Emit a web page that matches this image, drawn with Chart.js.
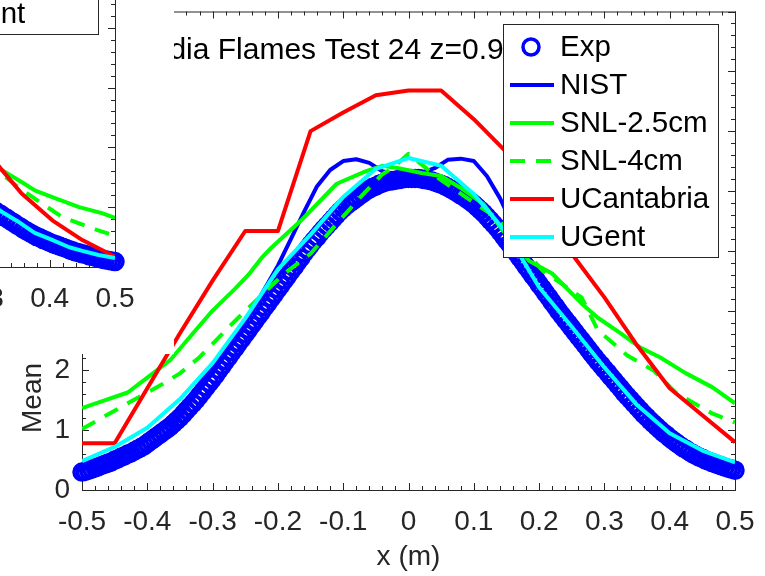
<!DOCTYPE html>
<html>
<head>
<meta charset="utf-8">
<script src="https://cdn.jsdelivr.net/npm/chart.js@4.4.0/dist/chart.umd.min.js"></script>
<style>
  html, body { margin: 0; padding: 0; background: #fff; }
  #wrap { position: relative; width: 765px; height: 576px; overflow: hidden; }
  #main { position: absolute; left: 0; top: 0; }
  #insetBox { position: absolute; left: 0; top: 0; width: 174px; height: 354px; overflow: hidden; background: #fff; }
  #inset { position: absolute; left: -620px; top: -223px; }
</style>
</head>
<body>
<div id="wrap">
  <canvas id="main" width="765" height="576"></canvas>
  <div id="insetBox"><canvas id="inset" width="765" height="576"></canvas></div>
</div>
<script>
// Sandia Flames Test 24, z = 0.9 m : radial profiles of the mean
const expX = [
  -0.500, -0.495, -0.490, -0.485, -0.480, -0.475, -0.470, -0.465, -0.460, -0.455,
  -0.450, -0.445, -0.440, -0.435, -0.430, -0.425, -0.420, -0.415, -0.410, -0.405,
  -0.400, -0.395, -0.390, -0.385, -0.380, -0.375, -0.370, -0.365, -0.360, -0.355,
  -0.350, -0.345, -0.340, -0.335, -0.330, -0.325, -0.320, -0.315, -0.310, -0.305,
  -0.300, -0.295, -0.290, -0.285, -0.280, -0.275, -0.270, -0.265, -0.260, -0.255,
  -0.250, -0.245, -0.240, -0.235, -0.230, -0.225, -0.220, -0.215, -0.210, -0.205,
  -0.200, -0.195, -0.190, -0.185, -0.180, -0.175, -0.170, -0.165, -0.160, -0.155,
  -0.150, -0.145, -0.140, -0.135, -0.130, -0.125, -0.120, -0.115, -0.110, -0.105,
  -0.100, -0.095, -0.090, -0.085, -0.080, -0.075, -0.070, -0.065, -0.060, -0.055,
  -0.050, -0.045, -0.040, -0.035, -0.030, -0.025, -0.020, -0.015, -0.010, -0.005,
  0.000, 0.005, 0.010, 0.015, 0.020, 0.025, 0.030, 0.035, 0.040, 0.045,
  0.050, 0.055, 0.060, 0.065, 0.070, 0.075, 0.080, 0.085, 0.090, 0.095,
  0.100, 0.105, 0.110, 0.115, 0.120, 0.125, 0.130, 0.135, 0.140, 0.145,
  0.150, 0.155, 0.160, 0.165, 0.170, 0.175, 0.180, 0.185, 0.190, 0.195,
  0.200, 0.205, 0.210, 0.215, 0.220, 0.225, 0.230, 0.235, 0.240, 0.245,
  0.250, 0.255, 0.260, 0.265, 0.270, 0.275, 0.280, 0.285, 0.290, 0.295,
  0.300, 0.305, 0.310, 0.315, 0.320, 0.325, 0.330, 0.335, 0.340, 0.345,
  0.350, 0.355, 0.360, 0.365, 0.370, 0.375, 0.380, 0.385, 0.390, 0.395,
  0.400, 0.405, 0.410, 0.415, 0.420, 0.425, 0.430, 0.435, 0.440, 0.445,
  0.450, 0.455, 0.460, 0.465, 0.470, 0.475, 0.480, 0.485, 0.490, 0.495,
  0.500];
const expMean = [
  0.30, 0.31, 0.33, 0.35, 0.37, 0.39, 0.41, 0.43, 0.45, 0.47,
  0.50, 0.52, 0.55, 0.57, 0.60, 0.62, 0.65, 0.68, 0.71, 0.74,
  0.78, 0.82, 0.86, 0.90, 0.94, 0.98, 1.02, 1.06, 1.11, 1.16,
  1.21, 1.27, 1.33, 1.39, 1.45, 1.51, 1.58, 1.65, 1.72, 1.79,
  1.86, 1.93, 2.01, 2.08, 2.16, 2.23, 2.31, 2.38, 2.46, 2.53,
  2.61, 2.68, 2.76, 2.83, 2.91, 2.98, 3.06, 3.13, 3.21, 3.28,
  3.36, 3.43, 3.51, 3.58, 3.66, 3.73, 3.81, 3.88, 3.96, 4.03,
  4.10, 4.17, 4.23, 4.30, 4.36, 4.42, 4.48, 4.54, 4.60, 4.66,
  4.71, 4.76, 4.80, 4.84, 4.88, 4.92, 4.96, 5.00, 5.03, 5.06,
  5.08, 5.11, 5.13, 5.15, 5.16, 5.17, 5.18, 5.19, 5.20, 5.21,
  5.21, 5.21, 5.21, 5.21, 5.20, 5.19, 5.18, 5.17, 5.15, 5.13,
  5.11, 5.09, 5.06, 5.03, 5.00, 4.97, 4.93, 4.90, 4.86, 4.82,
  4.78, 4.73, 4.68, 4.63, 4.57, 4.51, 4.45, 4.39, 4.32, 4.25,
  4.18, 4.11, 4.04, 3.97, 3.89, 3.82, 3.74, 3.67, 3.59, 3.52,
  3.44, 3.37, 3.29, 3.22, 3.14, 3.07, 2.99, 2.92, 2.85, 2.78,
  2.71, 2.64, 2.57, 2.50, 2.43, 2.36, 2.29, 2.22, 2.15, 2.09,
  2.02, 1.96, 1.89, 1.83, 1.76, 1.70, 1.63, 1.57, 1.51, 1.45,
  1.39, 1.33, 1.27, 1.22, 1.16, 1.11, 1.06, 1.01, 0.96, 0.92,
  0.87, 0.83, 0.79, 0.75, 0.71, 0.68, 0.64, 0.61, 0.58, 0.55,
  0.53, 0.50, 0.48, 0.46, 0.44, 0.42, 0.40, 0.38, 0.36, 0.35,
  0.33];

const nistX = [-0.50, -0.45, -0.40, -0.35, -0.30, -0.25, -0.20, -0.18, -0.16, -0.14, -0.12,
  -0.10, -0.08, -0.06, -0.04, -0.02, 0.00, 0.02, 0.04, 0.06, 0.08, 0.10,
  0.12, 0.14, 0.16, 0.18, 0.20, 0.25, 0.30, 0.35, 0.40, 0.45, 0.50];
const nistMean = [0.35, 0.55, 0.85, 1.25, 1.95, 2.80, 3.75, 4.20, 4.65, 5.08, 5.35,
  5.50, 5.53, 5.47, 5.33, 5.28, 5.28, 5.30, 5.38, 5.52, 5.54, 5.50,
  5.25, 4.88, 4.42, 3.98, 3.55, 2.72, 2.02, 1.40, 0.90, 0.56, 0.36];

const snl25X = [-0.50, -0.47, -0.43, -0.40, -0.365, -0.33, -0.30, -0.265, -0.245, -0.225, -0.21,
  -0.165, -0.11, -0.065, -0.04, -0.015, 0.02, 0.05, 0.08, 0.115, 0.145,
  0.185, 0.22, 0.265, 0.29, 0.325, 0.355, 0.385, 0.425, 0.465, 0.50];
const snl25Mean = [1.37, 1.48, 1.63, 1.88, 2.17, 2.62, 3.00, 3.37, 3.60, 3.88, 4.05,
  4.50, 5.12, 5.33, 5.42, 5.38, 5.30, 5.25, 5.05, 4.78, 4.33,
  3.83, 3.62, 3.12, 2.88, 2.62, 2.38, 2.22, 1.95, 1.72, 1.45];

const snl4X = [-0.50, -0.43, -0.38, -0.35, -0.32, -0.27, -0.24, -0.19, -0.15, -0.11, -0.075,
  -0.04, -0.025, 0.00, 0.045, 0.09, 0.135, 0.205, 0.265, 0.29, 0.335,
  0.375, 0.41, 0.465, 0.50];
const snl4Mean = [1.02, 1.45, 1.75, 1.95, 2.22, 2.78, 3.10, 3.62, 3.95, 4.45, 4.88,
  5.28, 5.38, 5.62, 5.22, 4.88, 4.55, 3.67, 3.22, 2.67, 2.25,
  2.00, 1.62, 1.28, 1.13];

const ucX = [-0.50, -0.45, -0.40, -0.35, -0.30, -0.25, -0.20, -0.15, -0.10, -0.05, 0.00,
  0.05, 0.10, 0.15, 0.20, 0.25, 0.30, 0.35, 0.40, 0.45, 0.50];
const ucMean = [0.78, 0.78, 1.70, 2.62, 3.50, 4.33, 4.33, 6.00, 6.31, 6.60, 6.68,
  6.68, 6.20, 5.65, 4.80, 3.95, 3.22, 2.42, 1.70, 1.25, 0.80];

const ugX = [-0.50, -0.45, -0.40, -0.35, -0.30, -0.25, -0.20, -0.15, -0.10, -0.05, 0.00,
  0.05, 0.10, 0.15, 0.20, 0.25, 0.30, 0.35, 0.40, 0.45, 0.50];
const ugMean = [0.48, 0.72, 1.04, 1.52, 2.12, 2.87, 3.69, 4.27, 4.90, 5.37, 5.55,
  5.42, 4.95, 4.30, 3.39, 2.73, 2.05, 1.42, 0.95, 0.66, 0.46];

// neighbouring panel, right-hand end of its profiles
const insetExpX = [0.300, 0.305, 0.310, 0.315, 0.320, 0.325, 0.330, 0.335, 0.340, 0.345,
  0.350, 0.355, 0.360, 0.365, 0.370, 0.375, 0.380, 0.385, 0.390, 0.395,
  0.400, 0.405, 0.410, 0.415, 0.420, 0.425, 0.430, 0.435, 0.440, 0.445,
  0.450, 0.455, 0.460, 0.465, 0.470, 0.475, 0.480, 0.485, 0.490, 0.495, 0.500];
const insetExpMean = [1.05, 1.02, 0.98, 0.95, 0.91, 0.88, 0.84, 0.81, 0.77, 0.74,
  0.70, 0.67, 0.63, 0.60, 0.57, 0.54, 0.51, 0.49, 0.46, 0.44,
  0.41, 0.39, 0.37, 0.35, 0.33, 0.31, 0.29, 0.27, 0.25, 0.24,
  0.22, 0.21, 0.19, 0.18, 0.16, 0.15, 0.13, 0.12, 0.11, 0.10, 0.09];
const insetNistX = [0.30, 0.35, 0.40, 0.45, 0.50];
const insetNistMean = [1.20, 0.82, 0.52, 0.30, 0.12];
const insetSnl25X = [0.30, 0.327, 0.36, 0.377, 0.404, 0.445, 0.48, 0.50];
const insetSnl25Mean = [1.85, 1.62, 1.40, 1.28, 1.17, 1.00, 0.90, 0.82];
const insetSnl4X = [0.30, 0.327, 0.35, 0.376, 0.42, 0.445, 0.472, 0.50];
const insetSnl4Mean = [1.75, 1.55, 1.35, 1.15, 0.83, 0.73, 0.62, 0.52];
const insetUcX = [0.30, 0.327, 0.357, 0.404, 0.45, 0.50];
const insetUcMean = [2.00, 1.62, 1.23, 0.78, 0.45, 0.17];
const insetUgX = [0.30, 0.327, 0.35, 0.377, 0.40, 0.43, 0.45, 0.475, 0.50];
const insetUgMean = [1.12, 0.92, 0.77, 0.57, 0.47, 0.33, 0.27, 0.20, 0.15];

const xTicks = [-0.5, -0.4, -0.3, -0.2, -0.1, 0, 0.1, 0.2, 0.3, 0.4, 0.5];
const yTicks = [0, 1, 2, 3, 4, 5, 6, 7, 8];

const FONT = '"Liberation Sans", Arial, Helvetica, sans-serif';
const AXIS = '#262626';
const BLUE = '#0000ff', GREEN = '#00ff00', RED = '#ff0000', CYAN = '#00ffff';

Chart.defaults.font.family = FONT;
Chart.defaults.font.size = 28;

function series(xs, ys) {
  return xs.map((x, i) => ({ x: x, y: ys[i] }));
}

// box, inward ticks, labels and legend drawn the MATLAB way
const matlabAxes = {
  id: 'matlabAxes',
  beforeDatasetsDraw(chart) {
    const { ctx, chartArea: a, scales: { x, y } } = chart;
    ctx.save();
    ctx.strokeStyle = AXIS;
    ctx.lineWidth = 1;
    ctx.strokeRect(a.left + 0.5, a.top + 0.5, a.right - a.left, a.bottom - a.top);
    ctx.beginPath();
    for (let i = 0; i <= 50; i++) {
      const px = Math.round(x.getPixelForValue(-0.5 + i * 0.02)) + 0.5;
      const len = i % 5 === 0 ? 7 : 4;
      ctx.moveTo(px, a.bottom); ctx.lineTo(px, a.bottom - len);
      ctx.moveTo(px, a.top); ctx.lineTo(px, a.top + len);
    }
    for (let i = 0; i <= 40; i++) {
      const py = Math.round(y.getPixelForValue(i * 0.2)) + 0.5;
      const len = i % 5 === 0 ? 7 : 4;
      ctx.moveTo(a.left, py); ctx.lineTo(a.left + len, py);
      ctx.moveTo(a.right, py); ctx.lineTo(a.right - len, py);
    }
    ctx.stroke();
    ctx.restore();
  },
  afterDraw(chart, args, opts) {
    const { ctx, chartArea: a } = chart;
    ctx.save();

    if (opts.title) {
      ctx.font = '30px ' + FONT;
      ctx.fillStyle = '#000';
      ctx.textAlign = 'left';
      ctx.textBaseline = 'alphabetic';
      ctx.fillText(opts.title, 116, 59);
    }

    ctx.font = '28px ' + FONT;
    ctx.fillStyle = AXIS;
    ctx.textAlign = 'center';
    ctx.textBaseline = 'middle';
    ctx.fillText('x (m)', (a.left + a.right) / 2, 557);
    ctx.save();
    ctx.translate(33, 398);
    ctx.rotate(-Math.PI / 2);
    ctx.fillText('Mean', 0, 0);
    ctx.restore();

    // legend
    const L = 503, T = 24, R = 718, B = 257;
    ctx.fillStyle = '#fff';
    ctx.fillRect(L, T, R - L, B - T);
    ctx.strokeStyle = AXIS;
    ctx.lineWidth = 1;
    ctx.strokeRect(L + 0.5, T + 0.5, R - L, B - T);
    ctx.font = '29.5px ' + FONT;
    chart.data.datasets.forEach((ds, i) => {
      const cy = 47 + i * 38;
      ctx.strokeStyle = ds.borderColor;
      if (ds.showLine === false) {
        ctx.lineWidth = 3.5;
        ctx.beginPath();
        ctx.arc(531, cy, 8, 0, Math.PI * 2);
        ctx.stroke();
      } else {
        ctx.lineWidth = ds.borderWidth;
        ctx.setLineDash(ds.borderDash || []);
        ctx.beginPath();
        ctx.moveTo(510, cy);
        ctx.lineTo(554, cy);
        ctx.stroke();
        ctx.setLineDash([]);
      }
      ctx.fillStyle = '#000';
      ctx.textAlign = 'left';
      ctx.textBaseline = 'middle';
      ctx.fillText(ds.label, 560, cy + 1);
    });
    ctx.restore();
  }
};

function lineSet(label, xs, ys, color, order, dash) {
  return {
    label: label,
    data: series(xs, ys),
    borderColor: color,
    backgroundColor: color,
    borderWidth: 4,
    borderDash: dash || [],
    borderJoinStyle: 'round',
    pointRadius: 0,
    order: order
  };
}

function makeChart(id, sets, title) {
  return new Chart(document.getElementById(id), {
    type: 'line',
    data: {
      datasets: [
        {
          label: 'Exp',
          data: series(sets.exp[0], sets.exp[1]),
          showLine: false,
          pointStyle: 'circle',
          pointRadius: 8,
          pointBorderWidth: 3.5,
          borderColor: BLUE,
          pointBorderColor: BLUE,
          pointBackgroundColor: 'rgba(0,0,0,0)',
          clip: false,
          order: 6
        },
        lineSet('NIST', sets.nist[0], sets.nist[1], BLUE, 5),
        lineSet('SNL-2.5cm', sets.snl25[0], sets.snl25[1], GREEN, 4),
        lineSet('SNL-4cm', sets.snl4[0], sets.snl4[1], GREEN, 3, [15, 11]),
        lineSet('UCantabria', sets.uc[0], sets.uc[1], RED, 2),
        lineSet('UGent', sets.ug[0], sets.ug[1], CYAN, 1)
      ]
    },
    options: {
      responsive: false,
      animation: false,
      devicePixelRatio: 1,
      layout: { padding: { top: 10, right: 30, left: 0, bottom: 0 } },
      plugins: {
        legend: { display: false },
        tooltip: { enabled: false },
        matlabAxes: { title: title }
      },
      scales: {
        x: {
          type: 'linear',
          min: -0.5,
          max: 0.5,
          grid: { display: false },
          border: { display: false },
          afterBuildTicks: s => { s.ticks = xTicks.map(v => ({ value: v })); },
          afterFit: s => { s.height = 86; s.paddingLeft = 0; s.paddingRight = 0; },
          ticks: {
            color: AXIS,
            padding: 7,
            autoSkip: false,
            maxRotation: 0,
            callback: v => (Math.abs(v) < 1e-9 ? '0' : String(+v.toFixed(1)))
          }
        },
        y: {
          min: 0,
          max: 8,
          grid: { display: false },
          border: { display: false },
          afterBuildTicks: s => { s.ticks = yTicks.map(v => ({ value: v })); },
          afterFit: s => { s.width = 82; s.paddingTop = 0; s.paddingBottom = 0; },
          ticks: { color: AXIS, padding: 4, callback: v => String(v) }
        }
      }
    },
    plugins: [matlabAxes]
  });
}

makeChart('main', {
  exp: [expX, expMean],
  nist: [nistX, nistMean],
  snl25: [snl25X, snl25Mean],
  snl4: [snl4X, snl4Mean],
  uc: [ucX, ucMean],
  ug: [ugX, ugMean]
}, 'Sandia Flames Test 24 z=0.9 m');

makeChart('inset', {
  exp: [insetExpX, insetExpMean],
  nist: [insetNistX, insetNistMean],
  snl25: [insetSnl25X, insetSnl25Mean],
  snl4: [insetSnl4X, insetSnl4Mean],
  uc: [insetUcX, insetUcMean],
  ug: [insetUgX, insetUgMean]
}, null);
</script>
</body>
</html>
